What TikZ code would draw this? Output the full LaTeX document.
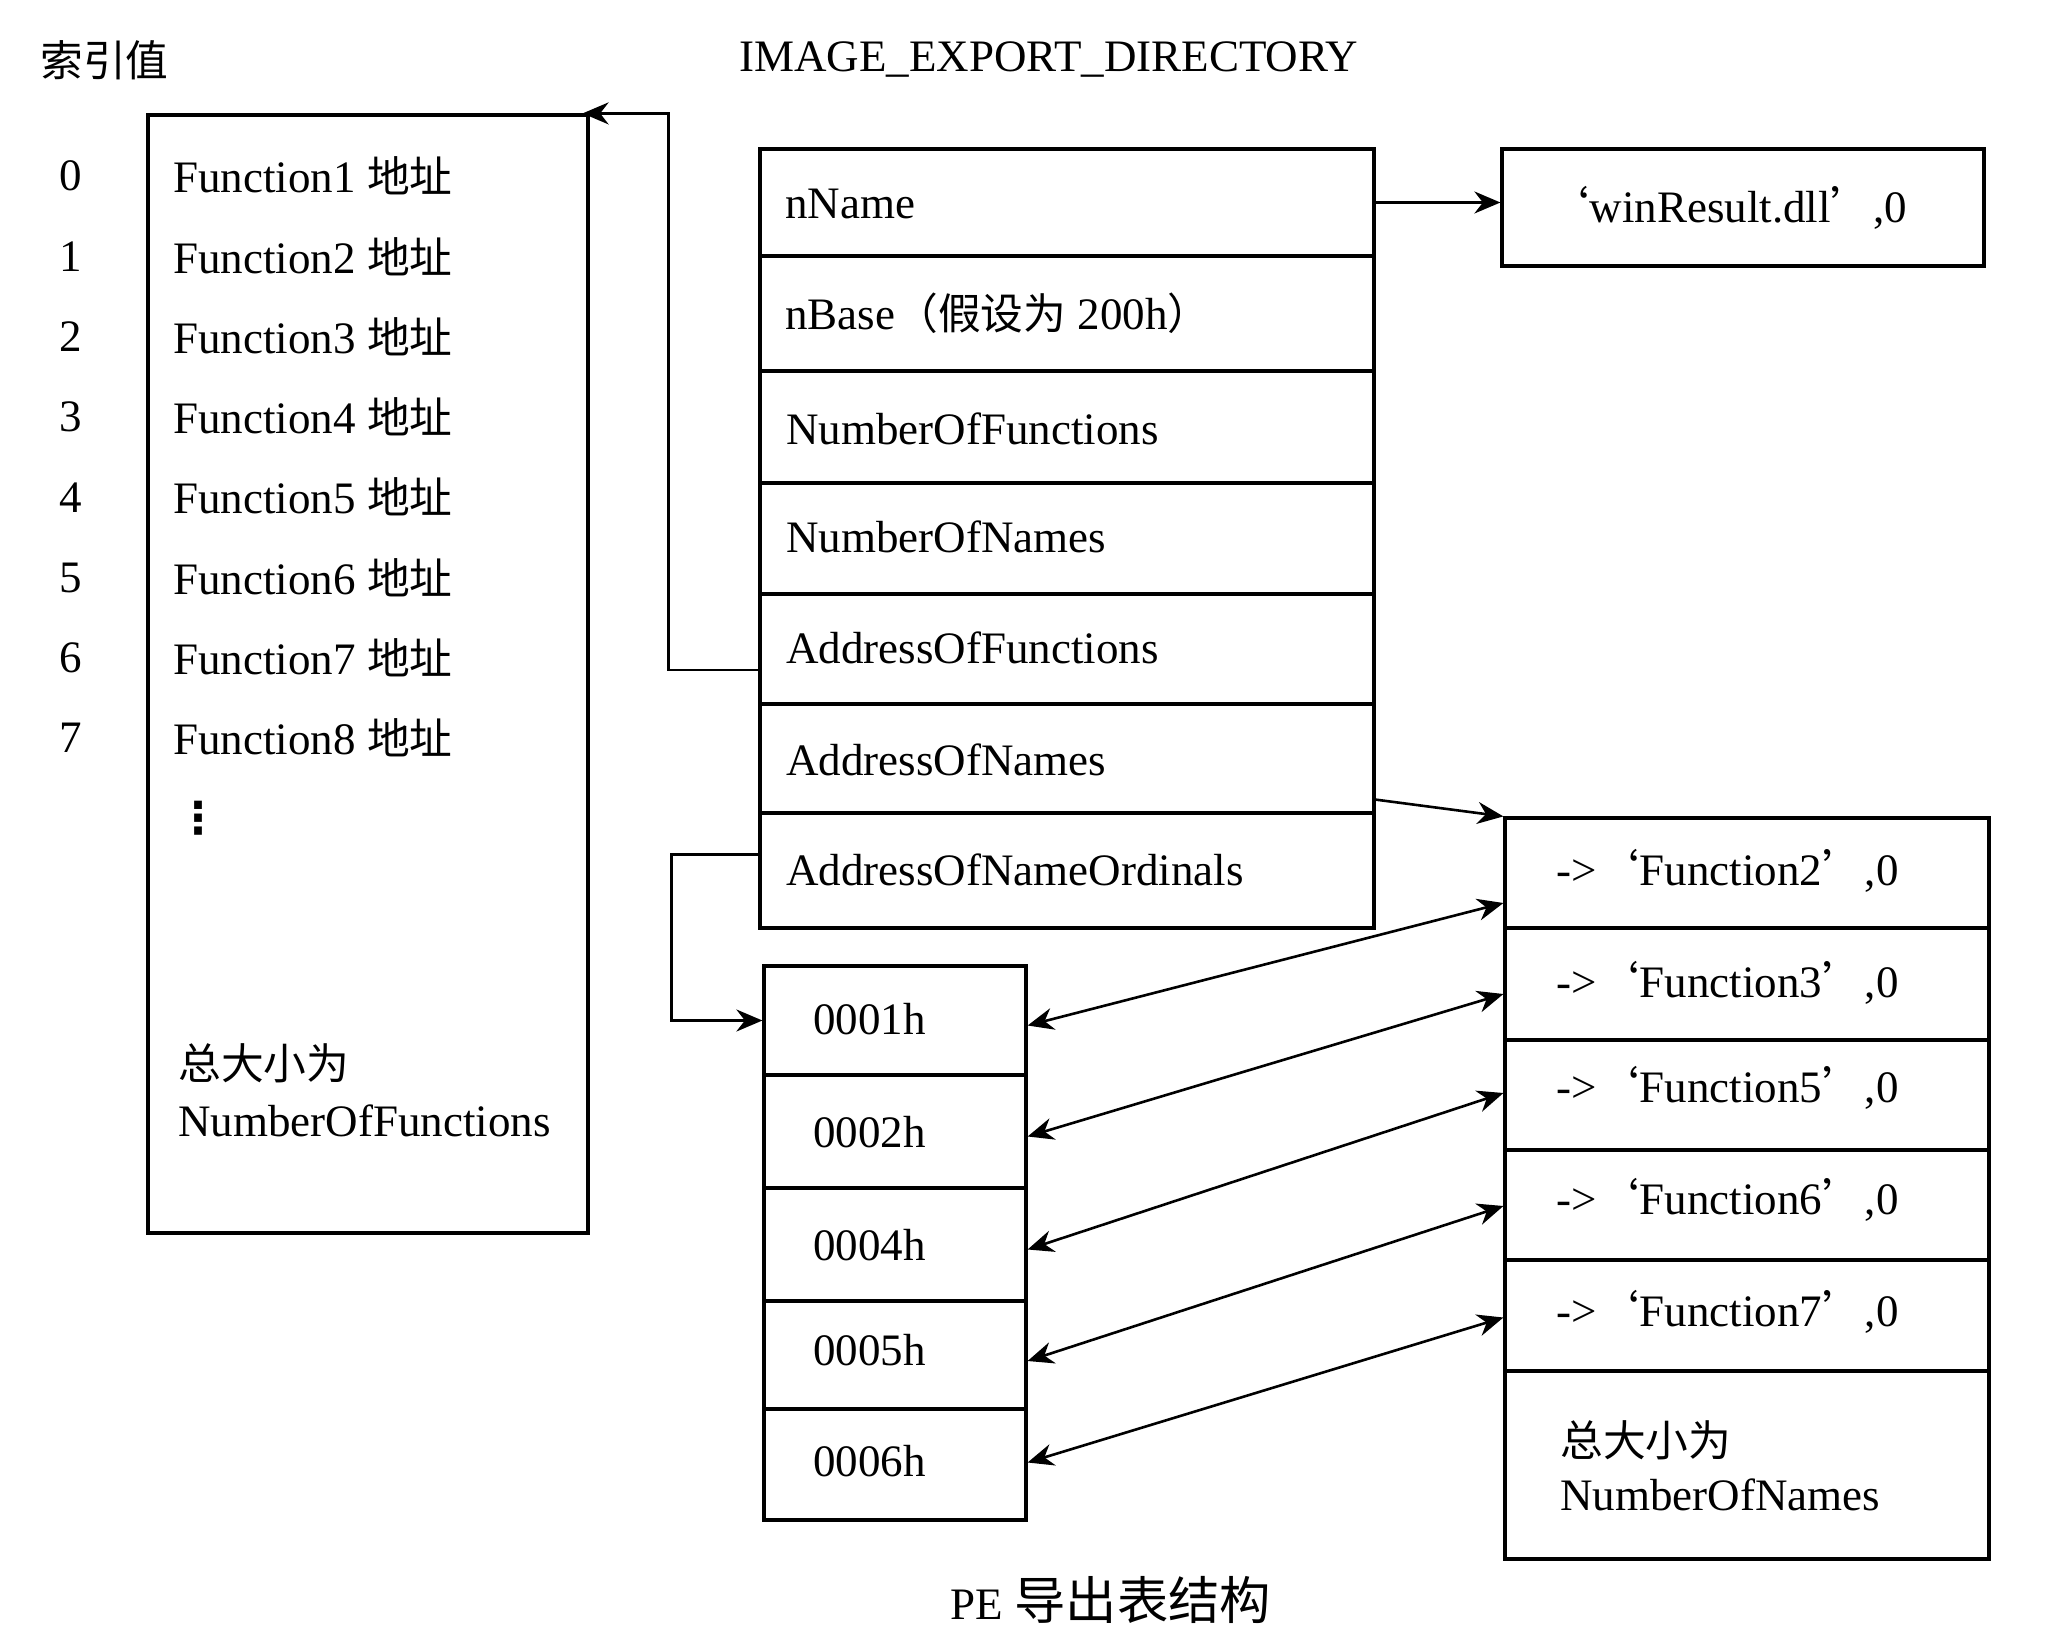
\documentclass[tikz,border=0pt]{standalone}
\usepackage{fontspec}
\setmainfont{Liberation Serif}
\newfontfamily\cjk[Scale=0.95]{Noto Sans CJK SC}
\newfontfamily\symfont{DejaVu Sans}
\usetikzlibrary{fit,arrows.meta}
\begin{document}
\begin{tikzpicture}[x=0.5pt,y=-0.5pt,
  box/.style={draw, line width=1.6pt, inner sep=0pt},
  txt/.style={anchor=west, inner sep=0pt, font=\fontsize{22.5}{27}\selectfont},
  ctxt/.style={inner sep=0pt, font=\fontsize{22.5}{27}\selectfont},
  tip/.tip={Stealth[length=13pt,width=11pt]},
  link/.style={line width=1.3pt, -tip},
  dlink/.style={line width=1.3pt, tip-tip},
]
\useasboundingbox (0,0) rectangle (2071,1631);

% headings
\node[txt] (idx) at (40,60) {\cjk 索引值};
\node[ctxt] (title) at (1049,60) {IMAGE\_EXPORT\_DIRECTORY};

% function address array
\node[box, fit={(148,115) (588,1233)}] (funcs) {};
\foreach \i in {0,...,7} {
  \pgfmathsetmacro\yy{176+80.3*\i}
  \pgfmathtruncatemacro\k{\i+1}
  \node[ctxt] (n\i) at (71,\yy) {\i};
  \node[txt] (f\i) at (173,\yy) {Function\k\ {\cjk 地址}};
}
\node[inner sep=0pt, font=\fontsize{22}{22}\selectfont\bfseries\symfont] (dots) at (198,818) {⋮};
\node[txt, align=left, font=\fontsize{22.5}{28.5}\selectfont] (fsize) at (178,1090) {{\cjk 总大小为}\\NumberOfFunctions};

% IMAGE_EXPORT_DIRECTORY
\node[box, fit={(760,149) (1374,256)}] (d1) {};
\node[box, fit={(760,256) (1374,371)}] (d2) {};
\node[box, fit={(760,371) (1374,483)}] (d3) {};
\node[box, fit={(760,483) (1374,594)}] (d4) {};
\node[box, fit={(760,594) (1374,704)}] (d5) {};
\node[box, fit={(760,704) (1374,813)}] (d6) {};
\node[box, fit={(760,813) (1374,928)}] (d7) {};
\node[txt] (dt1) at (785,204) {nName};
\node[txt] (dt2) at (785,313) {nBase{\cjk （假设为} 200h{\cjk ）}};
\node[txt] (dt3) at (786,429) {NumberOfFunctions};
\node[txt] (dt4) at (786,537) {NumberOfNames};
\node[txt] (dt5) at (786,648) {AddressOfFunctions};
\node[txt] (dt6) at (786,760) {AddressOfNames};
\node[txt] (dt7) at (786,870) {AddressOfNameOrdinals};

% name string
\node[box, fit={(1502,149) (1984,266)}] (win) {};
\node[ctxt] (wint) at ([xshift=-8pt]win.center) {{\cjk ‘}winResult.dll{\cjk ’},0};

% ordinals
\node[box, fit={(764,966) (1026,1075)}] (o1) {};
\node[box, fit={(764,1075) (1026,1188)}] (o2) {};
\node[box, fit={(764,1188) (1026,1301)}] (o3) {};
\node[box, fit={(764,1301) (1026,1409)}] (o4) {};
\node[box, fit={(764,1409) (1026,1520)}] (o5) {};
\node[txt] (ot1) at (813,1019) {0001h};
\node[txt] (ot2) at (813,1132) {0002h};
\node[txt] (ot3) at (813,1245) {0004h};
\node[txt] (ot4) at (813,1350) {0005h};
\node[txt] (ot5) at (813,1461) {0006h};

% names
\node[box, fit={(1505,818) (1989,928)}] (m1) {};
\node[box, fit={(1505,928) (1989,1040)}] (m2) {};
\node[box, fit={(1505,1040) (1989,1150)}] (m3) {};
\node[box, fit={(1505,1150) (1989,1260)}] (m4) {};
\node[box, fit={(1505,1260) (1989,1371)}] (m5) {};
\node[box, fit={(1505,1371) (1989,1559)}] (m6) {};
\node[txt] (mt1) at (1556,871) {->{\cjk ‘}Function2{\cjk ’},0};
\node[txt] (mt2) at (1556,983) {->{\cjk ‘}Function3{\cjk ’},0};
\node[txt] (mt3) at (1556,1088) {->{\cjk ‘}Function5{\cjk ’},0};
\node[txt] (mt4) at (1556,1200) {->{\cjk ‘}Function6{\cjk ’},0};
\node[txt] (mt5) at (1556,1312) {->{\cjk ‘}Function7{\cjk ’},0};
\node[txt, align=left, font=\fontsize{22.5}{27}\selectfont] (msize) at (1560,1466) {{\cjk 总大小为}\\NumberOfNames};

% caption
\node[ctxt] (cap) at (1111,1600) {PE {\fontsize{27}{30}\selectfont\cjk 导出表结构}};

% connectors
\draw[link, shorten >=-3.5pt] ([yshift=-10.5pt]d5.west) -- ++(-90,0) |- (funcs.north east);
\draw[link] ([yshift=8pt]d7.west) -- ++(-87,0) |- (o1.west);
\draw[link] (d1.east) -- (d1.east -| win.west);
\draw[link] ([yshift=7.5pt]d6.south east) -- (m1.north west);
\draw[dlink] ([yshift=-2.5pt]o1.east) -- ([yshift=-15pt]m1.west);
\draw[dlink] ([yshift=-2.5pt]o2.east) -- ([yshift=-5pt]m2.west);
\draw[dlink] ([yshift=-2.5pt]o3.east) -- ([yshift=1pt]m3.west);
\draw[dlink] ([yshift=-3pt]o4.east) -- ([yshift=-0.5pt]m4.west);
\draw[dlink] ([yshift=1pt]o5.east) -- ([yshift=-1pt]m5.west);
\end{tikzpicture}
\end{document}
